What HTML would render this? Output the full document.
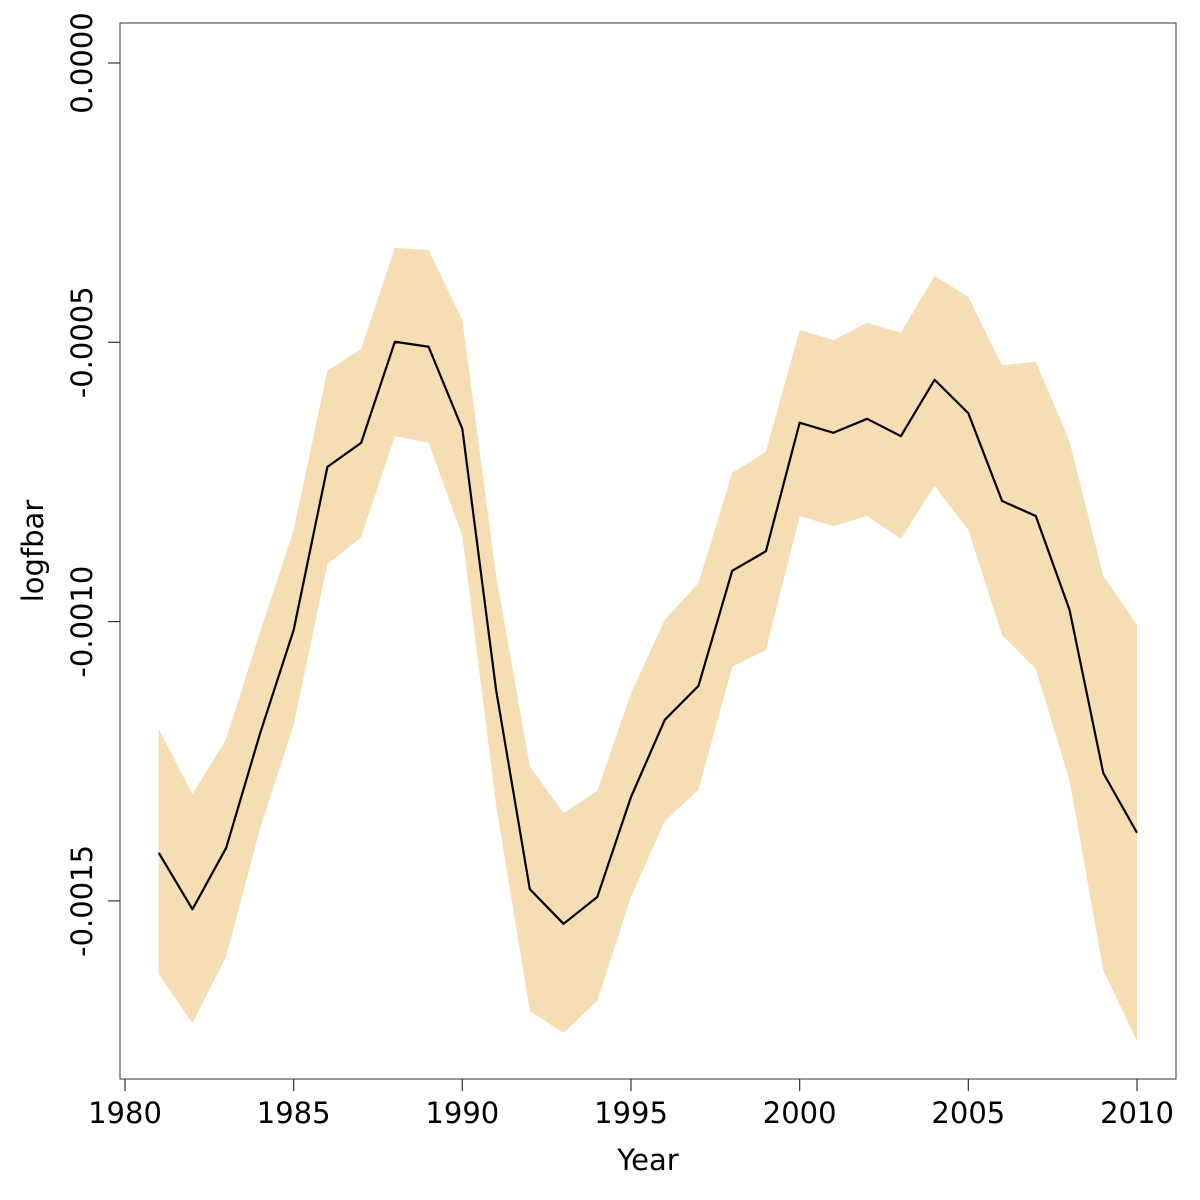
<!DOCTYPE html>
<html><head><meta charset="utf-8"><style>
html,body{margin:0;padding:0;background:#fff;}
svg{display:block;font-family:"DejaVu Sans","Liberation Sans",sans-serif;}
</style></head><body>
<svg id="chart" width="1200" height="1200" xmlns="http://www.w3.org/2000/svg">
<rect x="120" y="23" width="1056" height="1056" fill="none" stroke="#555" stroke-width="1.2"/>
<g id="band"></g>
<g id="line"></g>
<g id="xaxis"></g>
<g id="yaxis"></g>
<text x="648" y="1170" font-size="29" text-anchor="middle">Year</text>
<text transform="translate(43,551) rotate(-90)" font-size="29" text-anchor="middle">logfbar</text>
</svg>
<script>
const years = [1981,1982,1983,1984,1985,1986,1987,1988,1989,1990,1991,1992,1993,1994,1995,1996,1997,1998,1999,2000,2001,2002,2003,2004,2005,2006,2007,2008,2009,2010];
const meanVals = [-14.14,-15.15,-14.05,-12.01,-10.15,-7.23,-6.80,-4.99,-5.08,-6.55,-11.22,-14.79,-15.41,-14.93,-13.14,-11.76,-11.15,-9.09,-8.74,-6.44,-6.62,-6.37,-6.68,-5.67,-6.27,-7.84,-8.11,-9.79,-12.71,-13.78].map(v=>v*1e-4);
const upperVals = [-11.92,-13.09,-12.10,-10.19,-8.36,-5.51,-5.12,-3.31,-3.35,-4.60,-9.17,-12.59,-13.43,-13.03,-11.28,-9.97,-9.31,-7.34,-6.96,-4.78,-4.96,-4.65,-4.83,-3.81,-4.19,-5.41,-5.35,-6.77,-9.18,-10.06].map(v=>v*1e-4);
const lowerVals = [-16.31,-17.19,-15.99,-13.71,-11.85,-8.97,-8.49,-6.68,-6.80,-8.47,-13.28,-16.97,-17.36,-16.79,-14.93,-13.57,-13.01,-10.81,-10.51,-8.11,-8.29,-8.11,-8.52,-7.57,-8.36,-10.24,-10.85,-12.84,-16.24,-17.51].map(v=>v*1e-4);
const xTicks = [1980,1985,1990,1995,2000,2005,2010];
const yTicks = [0,-0.0005,-0.0010,-0.0015];
const yTickLabels = ["0.0000","-0.0005","-0.0010","-0.0015"];

const NS="http://www.w3.org/2000/svg";
function xs(yr){return 125+(yr-1980)*(1137-125)/30;}
function ys(v){return 63-v/0.0005*279.3;}
function mk(tag,attrs,parent){const e=document.createElementNS(NS,tag);for(const k in attrs)e.setAttribute(k,attrs[k]);parent.appendChild(e);return e;}

const band=document.getElementById('band');
let pts=years.map((y,i)=>xs(y)+','+ys(upperVals[i]));
for(let i=years.length-1;i>=0;i--)pts.push(xs(years[i])+','+ys(lowerVals[i]));
const poly=mk('polygon',{points:pts.join(' '),fill:'#F5DEB3',stroke:'none'},band);



const line=document.getElementById('line');
const pl=mk('polyline',{points:years.map((y,i)=>xs(y)+','+ys(meanVals[i])).join(' '),fill:'none',stroke:'#000','stroke-width':2.2,'stroke-linejoin':'round'},line);



const xa=document.getElementById('xaxis');
xTicks.forEach(t=>{
  const x=xs(t);
  const tk=mk('line',{x1:x,x2:x,y1:1079,y2:1091,stroke:'#333','stroke-width':1.2},xa);
  
  
  const tx=mk('text',{x:x,y:1123,'font-size':29,'text-anchor':'middle'},xa);
  tx.textContent=t;
  
  
});
const ya=document.getElementById('yaxis');
yTicks.forEach((t,i)=>{
  const y=ys(t);
  const tk=mk('line',{x1:108,x2:120,y1:y,y2:y,stroke:'#333','stroke-width':1.2},ya);
  
  
  const tx=mk('text',{transform:'translate(92,'+y+') rotate(-90)','font-size':29,'text-anchor':'middle'},ya);
  tx.textContent=yTickLabels[i];
  
  
});
</script>
</body></html>
